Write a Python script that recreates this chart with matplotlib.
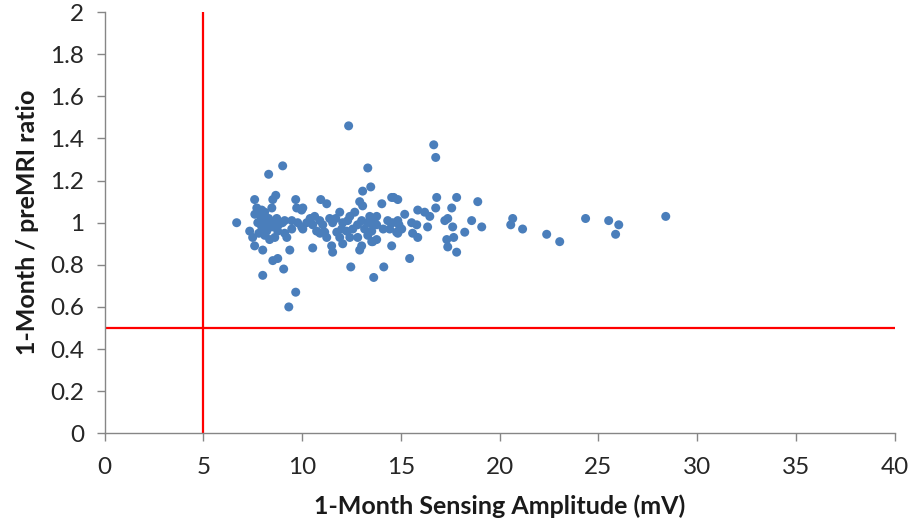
import matplotlib
matplotlib.use('Agg')
import matplotlib.pyplot as plt

# 1-month sensing amplitude (mV) and 1-month / preMRI ratio
amplitude = [
    9.01, 8.30, 7.59, 8.66, 8.51, 9.67, 7.70, 7.95, 8.10, 8.46, 9.72, 9.97, 6.68, 7.75,
    8.00, 8.25, 7.95, 8.20, 8.46, 8.71, 9.11, 9.47, 9.77, 9.47, 9.97, 8.76, 9.11, 7.34,
    7.49, 8.61, 8.35, 9.22, 7.59, 8.00, 9.37, 8.51, 8.76, 9.06, 8.00, 9.67, 9.32,
    13.32, 13.47, 13.06, 10.94, 11.24, 12.91, 13.06, 10.03, 11.90, 12.41, 12.66, 10.63,
    10.89, 11.39, 10.23, 10.53, 11.04, 11.54, 12.05, 13.01, 13.42, 13.67, 10.03, 10.73,
    11.14, 11.75, 12.25, 12.56, 13.16, 13.52, 11.24, 11.90, 12.41, 12.81, 13.32, 11.49,
    12.05, 13.01, 13.52, 11.54, 12.91, 10.53, 12.46, 13.62,
    16.66, 16.76, 14.63, 14.84, 14.53, 14.03, 16.81, 16.76, 17.57, 15.85, 16.20, 16.46,
    13.77, 13.77, 13.77, 14.33, 14.58, 14.84, 15.19, 14.43, 14.78, 15.04, 15.54, 15.80,
    15.59, 15.85, 16.35, 17.22, 17.37, 14.84, 14.53, 15.44, 14.13, 17.32, 17.37, 17.62,
    18.89, 17.82, 18.58, 19.09, 18.23, 17.67, 17.82, 13.57, 13.57,
    20.66, 20.56, 21.16, 22.38, 23.04, 24.35, 25.52, 26.03, 25.87, 28.41, 12.35,
    8.30, 8.50, 8.80, 9.00, 8.20, 7.90, 7.60, 7.80, 8.10, 10.40, 11.70, 12.30, 12.80,
    13.30, 14.10, 14.90, 10.90, 12.00,
]
ratio = [
    1.27, 1.23, 1.11, 1.13, 1.11, 1.11, 1.07, 1.06, 1.05, 1.07, 1.07, 1.06, 1.00, 1.00,
    1.00, 1.01, 0.98, 0.99, 0.98, 1.02, 1.01, 1.01, 1.00, 0.97, 0.98, 0.96, 0.95, 0.96,
    0.93, 0.93, 0.92, 0.93, 0.89, 0.87, 0.87, 0.82, 0.83, 0.78, 0.75, 0.67, 0.60,
    1.26, 1.17, 1.15, 1.11, 1.09, 1.10, 1.08, 1.07, 1.05, 1.03, 1.05, 1.03,
    1.01, 1.02, 1.00, 0.99, 0.99, 1.00, 1.00, 1.01, 1.03, 1.00, 0.97, 0.96,
    0.955, 0.955, 0.96, 0.97, 0.97, 0.96, 0.93, 0.93, 0.93, 0.93, 0.94, 0.89,
    0.90, 0.89, 0.91, 0.86, 0.87, 0.88, 0.79, 0.74,
    1.37, 1.31, 1.12, 1.11, 1.12, 1.09, 1.12, 1.07, 1.07, 1.06, 1.05, 1.03,
    1.03, 0.99, 0.92, 1.01, 1.00, 1.01, 1.04, 0.97, 0.955, 0.97, 1.00, 0.99,
    0.95, 0.93, 0.98, 1.01, 1.02, 0.95, 0.89, 0.83, 0.79, 0.92, 0.885, 0.98,
    1.10, 1.12, 1.01, 0.98, 0.955, 0.93, 0.86, 0.91, 0.99,
    1.02, 0.99, 0.97, 0.945, 0.91, 1.02, 1.01, 0.99, 0.945, 1.03, 1.46,
    1.02, 1.00, 0.99, 1.00, 0.96, 1.03, 1.04, 0.95, 0.94, 1.02, 1.02, 1.01, 0.99,
    1.00, 0.97, 0.99, 0.95, 0.97,
]

# threshold lines
amp_cutoff = 5
ratio_cutoff = 0.5

plt.rcParams['font.family'] = ['Lato', 'DejaVu Sans']

fig = plt.figure(figsize=(9.11, 5.29), dpi=100)
ax = fig.add_axes([0.115, 0.181, 0.867, 0.796])

ax.scatter(amplitude, ratio, s=42, color='#4a7ebb', edgecolors='none', zorder=3)

ax.axvline(amp_cutoff, color='#ff0000', linewidth=1.6, zorder=2)
ax.axhline(ratio_cutoff, color='#ff0000', linewidth=1.6, zorder=2)

ax.set_xlim(0, 40)
ax.set_ylim(0, 2)
ax.set_xticks(range(0, 41, 5))
ax.set_yticks([0, 0.2, 0.4, 0.6, 0.8, 1, 1.2, 1.4, 1.6, 1.8, 2])
ax.set_yticklabels(['0', '0.2', '0.4', '0.6', '0.8', '1', '1.2', '1.4', '1.6', '1.8', '2'])

for side in ['top', 'right']:
    ax.spines[side].set_visible(False)
for side in ['left', 'bottom']:
    ax.spines[side].set_color('#868686')
    ax.spines[side].set_linewidth(1)

ax.tick_params(direction='out', length=6, width=1, color='#868686',
               labelsize=17.5, labelcolor='#262626')
ax.tick_params(axis='y', pad=9)
ax.tick_params(axis='x', pad=11)

ax.set_xlabel('1-Month Sensing Amplitude (mV)', fontsize=18, fontweight='bold',
              color='#1a1a1a', labelpad=12)
ax.set_ylabel('1-Month / preMRI ratio', fontsize=18, fontweight='bold',
              color='#1a1a1a', labelpad=8)

plt.savefig('out.png', dpi=100)
